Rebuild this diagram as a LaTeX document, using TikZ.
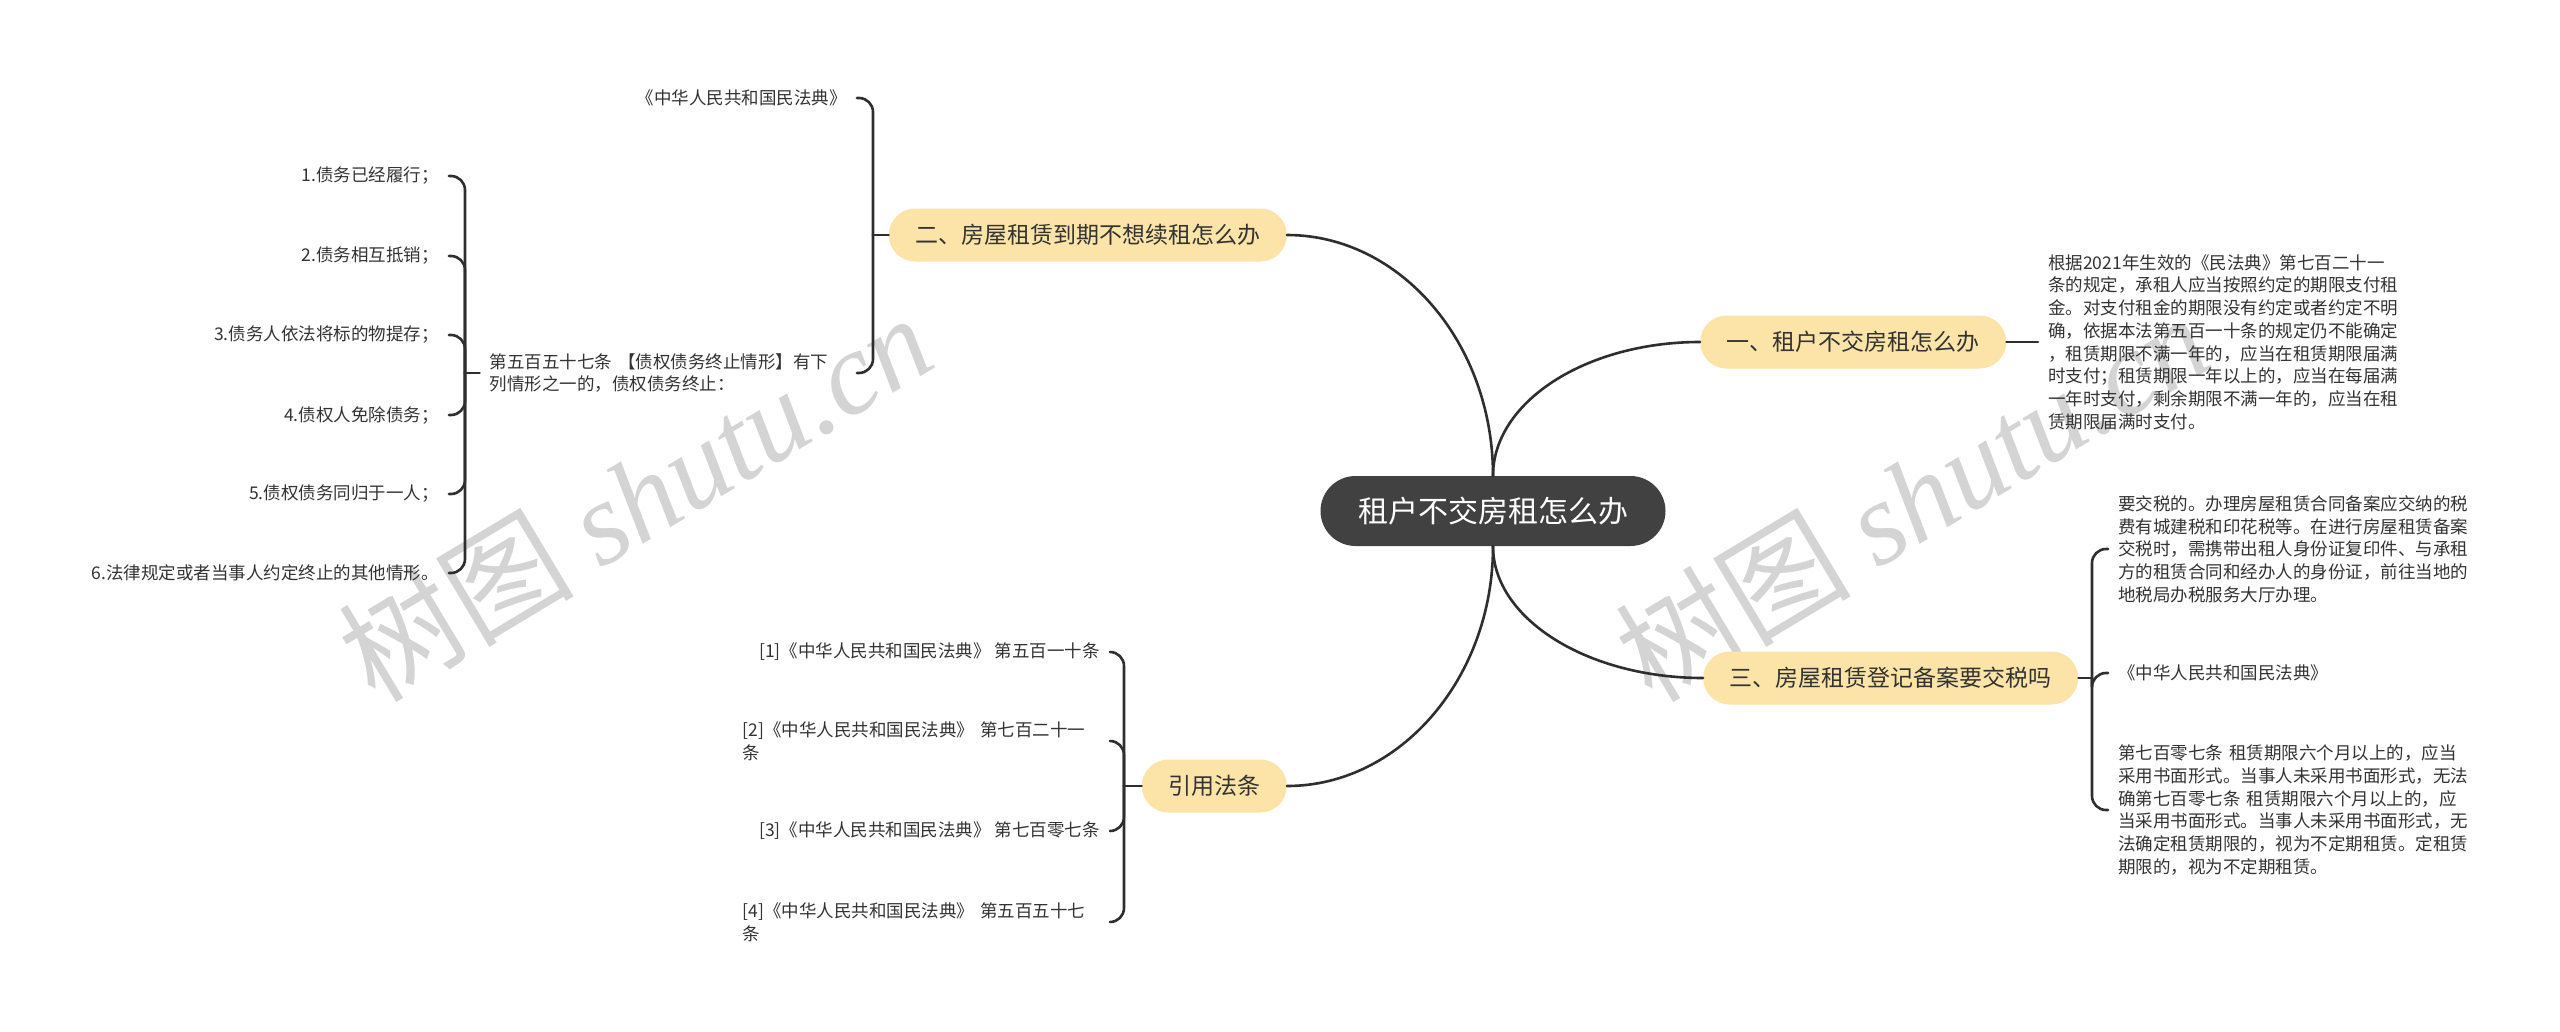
\documentclass[tikz,border=0pt]{standalone}
\usepackage{fontspec}
\setmainfont{Noto Sans CJK SC}
\newfontfamily\cjk{Noto Sans CJK SC}
\newfontfamily\wmserif{Liberation Serif}
\definecolor{rootcol}{HTML}{414141}
\definecolor{branchcol}{HTML}{FCE3A7}
\definecolor{txtcol}{HTML}{333333}
\definecolor{linecol}{HTML}{2E2E2E}
\definecolor{wmcol}{HTML}{D4D4D4}
\begin{document}
\begin{tikzpicture}[x=1pt,y=-1pt,
  link/.style={draw=linecol, line width=2.6pt, line cap=round},
  brace/.style={link, rounded corners=14pt},
  root/.style={fill=rootcol, text=white, font=\fontsize{30}{36}\selectfont,
    minimum width=345pt, minimum height=70pt, rounded corners=35pt, inner sep=0pt},
  branch/.style={fill=branchcol, text=txtcol, font=\fontsize{23}{28}\selectfont,
    minimum height=53pt, inner xsep=26.5pt, inner ysep=0pt, rounded corners=26.5pt},
  leaf/.style={text=txtcol, font=\fontsize{17.5}{22.7}\selectfont, inner xsep=10pt, inner ysep=3pt},
  wide/.style={leaf, text width=357pt, align=left},
  wm/.style={text=wmcol, inner sep=0pt, font=\fontsize{118}{130}\selectfont}
]
\fill[white] (0,0) rectangle (2560,1031);
\useasboundingbox (0,0) rectangle (2560,1031);

% watermarks
\node[wm, rotate=31, anchor=base west] (w1) at (375,705) {\cjk 树图 \wmserif\itshape shutu.cn};
\node[wm, rotate=31, anchor=base west] (w2) at (1652,705) {\cjk 树图 \wmserif\itshape shutu.cn};

% root and branches
\node[root] (c) at (1493,511) {租户不交房租怎么办};
\node[branch, anchor=west] (b1) at (1700,342) {一、租户不交房租怎么办};
\node[branch, anchor=east] (b2) at (1287,235) {二、房屋租赁到期不想续租怎么办};
\node[branch, anchor=west] (b3) at (1703,678) {三、房屋租赁登记备案要交税吗};
\node[branch, anchor=east] (b4) at (1287,786) {引用法条};

\draw[link] (c.north) .. controls +(0,-74) and +(-114,0) .. (b1.west);
\draw[link] (c.north) .. controls +(0,-133) and +(113,0) .. (b2.east);
\draw[link] (c.south) .. controls +(0,73) and +(-115,0) .. (b3.west);
\draw[link] (c.south) .. controls +(0,132) and +(113,0) .. (b4.east);

% branch 1
\node[wide, anchor=west] (t1) at (2038,342) {根据2021年生效的《民法典》第七百二十一\\
条的规定，承租人应当按照约定的期限支付租\\
金。对支付租金的期限没有约定或者约定不明\\
确，依据本法第五百一十条的规定仍不能确定\\
，租赁期限不满一年的，应当在租赁期限届满\\
时支付；租赁期限一年以上的，应当在每届满\\
一年时支付，剩余期限不满一年的，应当在租\\
赁期限届满时支付。};
\draw[link] (b1.east) -- (t1.west);

% branch 2
\coordinate (b2v) at (873,235);
\node[leaf, anchor=east] (c21) at (857,98) {《中华人民共和国民法典》};
\node[wide, anchor=east] (c22) at (857,373) {第五百五十七条 【债权债务终止情形】有下\\列情形之一的，债权债务终止：};
\draw[link] (b2.west) -- (b2v);
\draw[brace] (b2v) |- (c21.east);
\draw[brace] (b2v) |- (c22.east);

\coordinate (c22v) at (465,373);
\node[leaf, anchor=east] (i1) at (449,176) {1.债务已经履行；};
\node[leaf, anchor=east] (i2) at (449,256) {2.债务相互抵销；};
\node[leaf, anchor=east] (i3) at (449,335) {3.债务人依法将标的物提存；};
\node[leaf, anchor=east] (i4) at (449,415) {4.债权人免除债务；};
\node[leaf, anchor=east] (i5) at (449,494) {5.债权债务同归于一人；};
\node[leaf, anchor=east] (i6) at (449,573) {6.法律规定或者当事人约定终止的其他情形。};
\draw[link] (c22.west) -- (c22v);
\foreach \n in {i1,i2,i3,i4,i5,i6} {\draw[brace] (c22v) |- (\n.east);}

% branch 3
\coordinate (b3v) at (2092,678);
\node[wide, anchor=west] (c31) at (2108,549) {要交税的。办理房屋租赁合同备案应交纳的税\\
费有城建税和印花税等。在进行房屋租赁备案\\
交税时，需携带出租人身份证复印件、与承租\\
方的租赁合同和经办人的身份证，前往当地的\\
地税局办税服务大厅办理。};
\node[leaf, anchor=west] (c32) at (2108,673) {《中华人民共和国民法典》};
\node[wide, anchor=west] (c33) at (2108,810) {第七百零七条 租赁期限六个月以上的，应当\\
采用书面形式。当事人未采用书面形式，无法\\
确第七百零七条 租赁期限六个月以上的，应\\
当采用书面形式。当事人未采用书面形式，无\\
法确定租赁期限的，视为不定期租赁。定租赁\\
期限的，视为不定期租赁。};
\draw[link] (b3.east) -- (b3v);
\draw[brace] (b3v) |- (c31.west);
\draw[brace] (b3v) |- (c32.west);
\draw[brace] (b3v) |- (c33.west);

% branch 4
\coordinate (b4v) at (1124,786);
\node[leaf, anchor=east] (r1) at (1110,652) {[1]《中华人民共和国民法典》 第五百一十条};
\node[wide, anchor=east] (r2) at (1110,741) {[2]《中华人民共和国民法典》 第七百二十一\\条};
\node[leaf, anchor=east] (r3) at (1110,831) {[3]《中华人民共和国民法典》 第七百零七条};
\node[wide, anchor=east] (r4) at (1110,922) {[4]《中华人民共和国民法典》 第五百五十七\\条};
\draw[link] (b4.west) -- (b4v);
\foreach \n in {r1,r2,r3,r4} {\draw[brace] (b4v) |- (\n.east);}
\end{tikzpicture}
\end{document}
